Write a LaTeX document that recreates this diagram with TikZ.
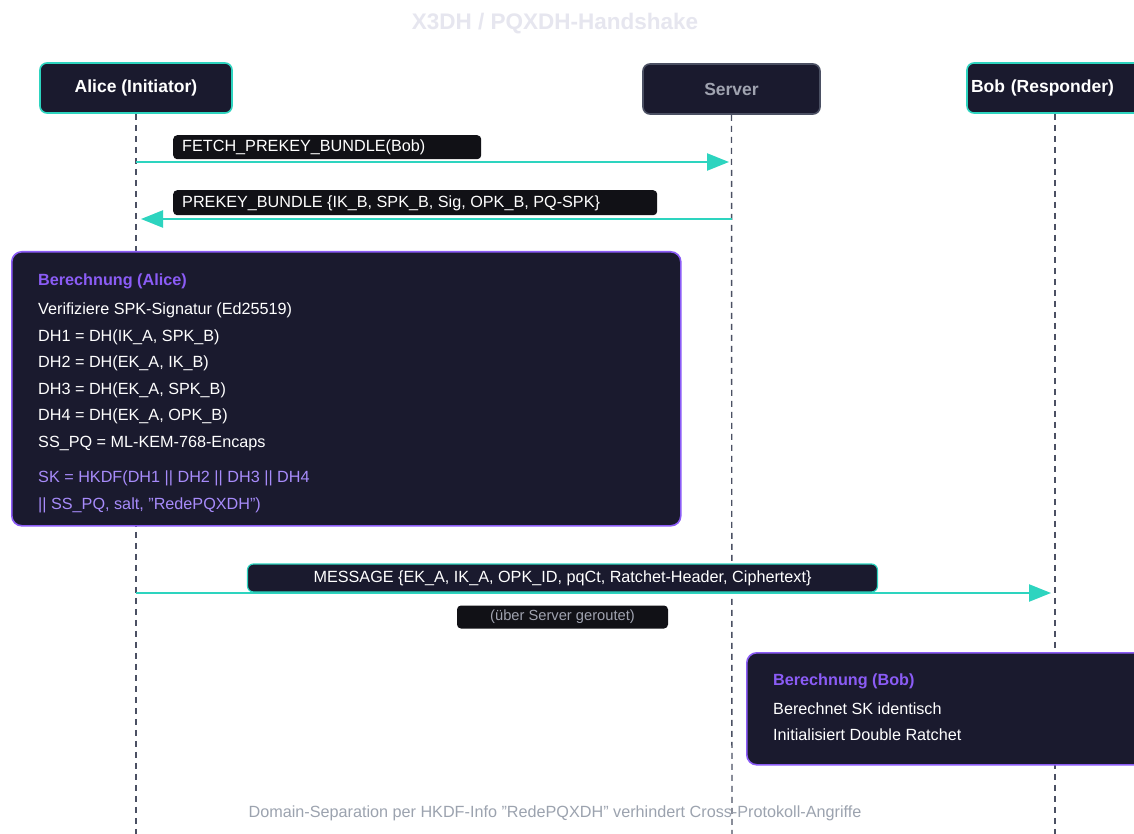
\documentclass[tikz,border=0pt]{standalone}
\usepackage{fontspec}
\setmainfont{Liberation Sans}
\usetikzlibrary{arrows.meta}
\definecolor{navy}{HTML}{1A1A2E}
\definecolor{teal}{HTML}{2DD4BF}
\definecolor{purp}{HTML}{8B5CF6}
\definecolor{lpurp}{HTML}{A78BFA}
\definecolor{lifeg}{HTML}{4B5063}
\definecolor{titleg}{HTML}{E6E6EF}
\definecolor{footg}{HTML}{9CA3AF}
\definecolor{servg}{HTML}{A0A3B0}
\definecolor{lblbg}{HTML}{111116}
\newcommand{\sq}{\symbol{34}}
\tikzset{
  x=1pt,y=-1pt,
  actor/.style={draw=teal,line width=1.6pt,fill=navy,rounded corners=7pt,minimum height=50pt,text=white,font=\fontsize{17.5}{20}\selectfont\bfseries},
  serveractor/.style={actor,draw=lifeg,text=servg},
  lifeline/.style={draw=lifeg,line width=1.4pt,dash pattern=on 6pt off 5pt},
  msg/.style={draw=teal,line width=2.4pt,-{Triangle[length=22pt,width=17pt]}},
  lbl/.style={fill=lblbg,rounded corners=4pt,inner sep=0pt,anchor=north west},
  lbltext/.style={text=white,font=\fontsize{16.2}{19}\selectfont,anchor=west,inner sep=0pt},
  calc/.style={draw=purp,line width=1.6pt,fill=navy,rounded corners=10pt,anchor=north west,inner sep=0pt},
  ctitle/.style={text=purp,font=\fontsize{16.2}{19}\selectfont\bfseries,anchor=base west,inner sep=0pt},
  cline/.style={text=white,font=\fontsize{16.2}{19}\selectfont,anchor=base west,inner sep=0pt},
  csk/.style={text=lpurp,font=\fontsize{16.2}{19}\selectfont,anchor=base west,inner sep=0pt},
}
\begin{document}
\begin{tikzpicture}
\useasboundingbox (0,0) rectangle (1134,834);
\clip (0,0) rectangle (1134,834);
\fill[white] (0,0) rectangle (1134,834);
% title
\node[text=titleg,font=\fontsize{22.5}{26}\selectfont\bfseries] (title) at (555,24) {X3DH / PQXDH-Handshake};
% lifelines
\coordinate (alow) at (136,834);
\coordinate (slow) at (732,834);
\coordinate (blow) at (1055,834);
\node[actor,minimum width=192pt] (alice) at (136,88) {Alice (Initiator)};
\node[serveractor,minimum width=177pt] (server) at (731.5,89) {Server};
\node[actor,minimum width=176pt,text width=170pt,align=left,inner sep=0pt] (bob) at (1055,88) {\hspace*{1pt}Bob (Responder)};
\draw[lifeline] (alice.south) -- (alow);
\draw[lifeline] (server.south) -- (slow);
\draw[lifeline] (bob.south -| blow) -- (blow);
% message 1
\coordinate (a1) at (136,162);
\coordinate (s1) at (729,162);
\draw[msg] (a1) -- (s1);
\node[lbl,minimum width=308pt,minimum height=24pt] (l1) at (173,135) {};
\node[lbltext] (t1) at (182,147) {FETCH\_PREKEY\_BUNDLE(Bob)};
% message 2
\coordinate (s2) at (732,219);
\coordinate (a2) at (141,219);
\draw[msg] (s2) -- (a2);
\node[lbl,minimum width=484pt,minimum height=25pt] (l2) at (173,190) {};
\node[lbltext] (t2) at (182,203) {PREKEY\_BUNDLE \{IK\_B, SPK\_B, Sig, OPK\_B, PQ-SPK\}};
% Alice computation
\node[calc,minimum width=669pt,minimum height=274pt] (ca) at (11,251) {};
\node[ctitle] (ca0) at (38,285) {Berechnung (Alice)};
\node[cline] (ca1) at (38,314) {Verifiziere SPK-Signatur (Ed25519)};
\node[cline] (ca2) at (38,341) {DH1 = DH(IK\_A, SPK\_B)};
\node[cline] (ca3) at (38,367) {DH2 = DH(EK\_A, IK\_B)};
\node[cline] (ca4) at (38,394) {DH3 = DH(EK\_A, SPK\_B)};
\node[cline] (ca5) at (38,420) {DH4 = DH(EK\_A, OPK\_B)};
\node[cline] (ca6) at (38,447) {SS\_PQ = ML-KEM-768-Encaps};
\node[csk] (ca7) at (38,482) {SK = HKDF(DH1 || DH2 || DH3 || DH4};
\node[csk] (ca8) at (38,509) {|| SS\_PQ, salt, \sq RedePQXDH\sq)};
% message 3
\coordinate (a3) at (136,593);
\coordinate (b3) at (1051,593);
\draw[msg] (a3) -- (b3);
\node[draw=teal,line width=1.2pt,fill=navy,rounded corners=6pt,minimum width=630pt,minimum height=28pt,text=white,font=\fontsize{16.2}{19}\selectfont,inner sep=0pt] (l3) at (562.5,578) {MESSAGE \{EK\_A, IK\_A, OPK\_ID, pqCt, Ratchet-Header, Ciphertext\}};
\node[fill=lblbg,rounded corners=4pt,minimum width=211pt,minimum height=23pt,text=servg,font=\fontsize{14.7}{17}\selectfont,inner sep=0pt] (l4) at (562.5,617) {(über Server geroutet)};
% Bob computation
\node[calc,minimum width=420pt,minimum height=112pt] (cb) at (746,652) {};
\node[ctitle] (cb0) at (773,685) {Berechnung (Bob)};
\node[cline] (cb1) at (773,714) {Berechnet SK identisch};
\node[cline] (cb2) at (773,740) {Initialisiert Double Ratchet};
% footer
\node[text=footg,font=\fontsize{16.2}{19}\selectfont] (foot) at (555,813) {Domain-Separation per HKDF-Info \sq RedePQXDH\sq{} verhindert Cross-Protokoll-Angriffe};
\end{tikzpicture}
\end{document}
